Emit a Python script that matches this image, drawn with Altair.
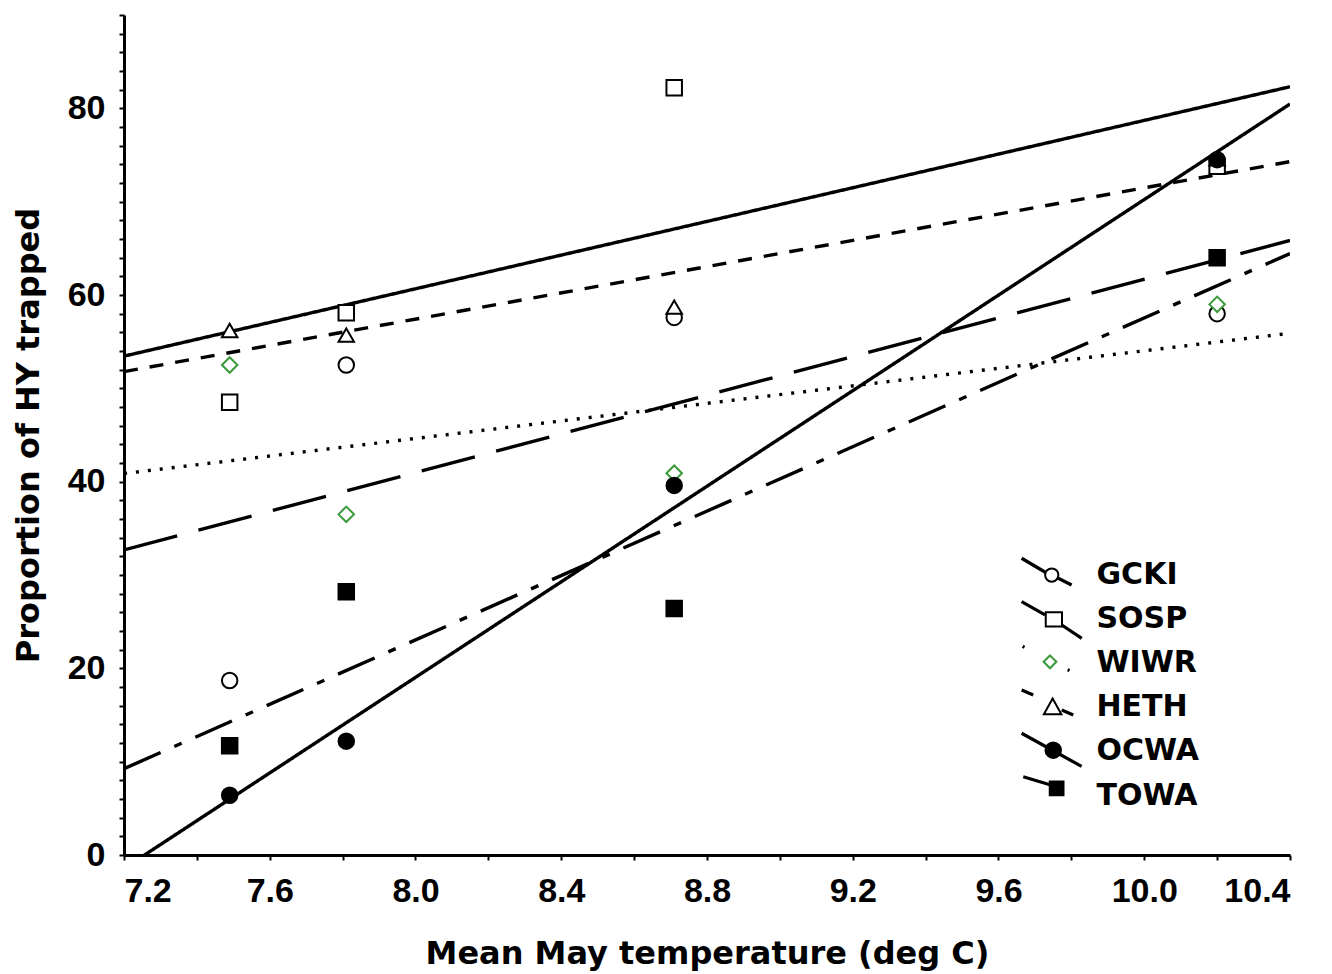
import altair as alt
import pandas as pd

# ---- data ----
temps = [7.49, 7.81, 8.71, 10.2]
species = ["GCKI", "SOSP", "WIWR", "HETH", "OCWA", "TOWA"]
GCKI = [18.7, 52.5, 57.6, 58.0]
SOSP = [48.5, 58.1, 82.2, 73.8]
WIWR = [52.5, 36.5, 40.9, 59.0]
HETH = [56.2, 55.7, 58.7, 74.6]
OCWA = [6.4, 12.2, 39.6, 74.5]
TOWA = [11.7, 28.2, 26.4, 64.0]
x_ticks = [7.2, 7.4, 7.6, 7.8, 8.0, 8.2, 8.4, 8.6, 8.8, 9.0, 9.2, 9.4, 9.6,
           9.8, 10.0, 10.2, 10.4]
y_ticks = list(range(0, 92, 2))

series = {"GCKI": GCKI, "SOSP": SOSP, "WIWR": WIWR, "HETH": HETH,
          "OCWA": OCWA, "TOWA": TOWA}
rows = []
for sp in species:
    for t, v in zip(temps, series[sp]):
        rows.append({"sp": sp, "x": t, "y": v})
df = pd.DataFrame(rows)

# ---- styles ----
dash_range = [[55, 22], [1, 0], [3, 9], [14, 12], [1, 0], [40, 15, 8, 15]]
shape_range = ["circle", "square", "diamond", "triangle-up", "circle", "square"]
fill_range = ["white", "white", "white", "white", "black", "black"]
stroke_range = ["black", "black", "#3a9a3a", "black", "black", "black"]

# legend symbol paths (unit = 12.5 px)
legend_line_paths = [
    "M -2.03 -1.34 L -0.1 -0.2 M 0.9 0.26 L 1.97 0.8",
    "M -2.03 -1.39 L -0.16 -0.33 M 1.18 0.47 L 2.78 1.54",
    "M -1.95 -1.35 L -1.8 -1.28 M 1.65 0.52 L 1.8 0.58",
    "M -2.03 -1.38 L -1.1 -0.98 M 1.18 0.22 L 2.1 0.62",
    "M -2.03 -1.45 L 2.77 1.2",
    "M -1.9 -1.5 L 0.3 -0.84",
]
legend_marker_paths = [
    "M 0.91 0 A 0.53 0.53 0 1 1 -0.15 0 A 0.53 0.53 0 1 1 0.91 0 Z",
    "M -0.1 -0.55 L 1.2 -0.55 L 1.2 0.6 L -0.1 0.6 Z",
    "M 0.24 -0.62 L 0.75 -0.12 L 0.24 0.4 L -0.27 -0.12 Z",
    "M 0.45 -0.7 L 1.15 0.55 L -0.25 0.55 Z",
    "M 1.12 -0.1 A 0.62 0.62 0 1 1 -0.12 -0.1 A 0.62 0.62 0 1 1 1.12 -0.1 Z",
    "M 0.22 -1.13 L 1.32 -1.13 L 1.32 -0.03 L 0.22 -0.03 Z",
]

TICK_FONT = "Liberation Sans"
TITLE_FONT = "DejaVu Sans"

x_enc = alt.X("x:Q", scale=alt.Scale(domain=[7.2, 10.4], nice=False, zero=False),
              axis=alt.Axis(values=x_ticks, title="Mean May temperature (deg C)",
                            labelExpr="round(datum.value * 10) % 4 == 0 ? format(datum.value, '.1f') : ''",
                            labelPadding=14, titlePadding=30))
y_enc = alt.Y("y:Q", scale=alt.Scale(domain=[0, 90], nice=False),
              axis=alt.Axis(values=y_ticks, title="Proportion of HY trapped",
                            labelExpr="datum.value % 20 == 0 ? datum.label : ''",
                            labelPadding=14, titlePadding=22))

base = alt.Chart(df)

lines = base.transform_regression(
    "x", "y", groupby=["sp"], extent=[7.2, 10.4]
).mark_line(clip=True, color="black", strokeWidth=3.4).encode(
    x=x_enc, y=y_enc,
    strokeDash=alt.StrokeDash("sp:N", scale=alt.Scale(domain=species, range=dash_range), legend=None),
)

points = base.mark_point(filled=True, size=240, strokeWidth=2, opacity=1).encode(
    x=x_enc, y=y_enc,
    shape=alt.Shape("sp:N", scale=alt.Scale(domain=species, range=shape_range), legend=None),
    fill=alt.Fill("sp:N", scale=alt.Scale(domain=species, range=fill_range), legend=None),
    stroke=alt.Stroke("sp:N", scale=alt.Scale(domain=species, range=stroke_range), legend=None),
)

legend_layers = []
for i, sp in enumerate(species):
    common = dict(orient="none", legendX=908, legendY=545 + i * 44.1,
                  symbolSize=625, labelFont=TITLE_FONT, labelFontSize=30,
                  labelFontWeight="bold", labelColor="black", labelOffset=34.5,
                  title=None, padding=0, labelLimit=0)
    ln = alt.Chart(df).transform_filter("false").mark_point(
        filled=False, stroke="black", strokeWidth=3.2, opacity=1, size=625
    ).encode(shape=alt.Shape("sp:N", scale=alt.Scale(domain=[sp], range=[legend_line_paths[i]]),
                             legend=alt.Legend(labelOpacity=0, symbolStrokeWidth=3.2, **common)))
    mk = alt.Chart(df).transform_filter("false").mark_point(
        filled=True, fill=fill_range[i], stroke=stroke_range[i], strokeWidth=2,
        opacity=1, size=625
    ).encode(shape=alt.Shape("sp:N", scale=alt.Scale(domain=[sp], range=[legend_marker_paths[i]]),
                             legend=alt.Legend(symbolStrokeWidth=2, **common)))
    legend_layers += [ln, mk]

chart = alt.layer(lines, points, *legend_layers).resolve_scale(
    shape="independent", fill="independent", stroke="independent", strokeDash="independent"
).resolve_legend(shape="independent").properties(
    width=1166, height=840,
    autosize=alt.AutoSizeParams(type="none"),
    padding={"left": 116, "top": 7, "right": 34, "bottom": 119},
    background="white",
).configure_view(stroke=None).configure_axis(
    grid=False, domainColor="black", domainWidth=3, tickColor="black", tickWidth=2,
    tickSize=5, labelColor="black", labelFont=TICK_FONT, labelFontSize=34,
    labelFontWeight="bold", titleFont=TITLE_FONT, titleFontSize=32,
    titleFontWeight="bold", titleColor="black",
)

chart.save("out.html", embed_options={"renderer": "svg", "actions": False})
